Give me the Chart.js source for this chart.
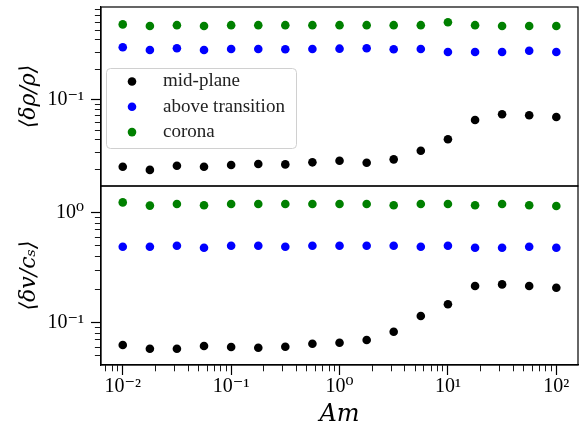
<!DOCTYPE html>
<html><head><meta charset="utf-8">
<script src="https://cdn.jsdelivr.net/npm/chart.js@4"></script>
<style>html,body{margin:0;padding:0;background:#fff}#wrap{width:579px;height:423px;position:relative}canvas{display:block}</style>
</head><body><div id="wrap"><canvas id="c" width="579" height="423" style="width:579px;height:423px"></canvas></div>
<script>
// ---- data ----
const amValues = [0.01, 0.0178, 0.0316, 0.0562, 0.1, 0.178, 0.316, 0.562, 1, 1.78, 3.16, 5.62, 10, 17.8, 31.6, 56.2, 100];
const seriesLabels = ['mid-plane', 'above transition', 'corona'];
const seriesColors = ['#000000', '#0000ff', '#008000'];
const rhoMidPlane = [0.0215, 0.0200, 0.0220, 0.0215, 0.0224, 0.0229, 0.0227, 0.0238, 0.0247, 0.0236, 0.0255, 0.0311, 0.0405, 0.0631, 0.0719, 0.0703, 0.0676];
const rhoAboveTransition = [0.337, 0.316, 0.329, 0.316, 0.324, 0.324, 0.322, 0.324, 0.326, 0.329, 0.322, 0.324, 0.302, 0.302, 0.302, 0.311, 0.302];
const rhoCorona = [0.57, 0.55, 0.56, 0.55, 0.56, 0.56, 0.56, 0.56, 0.56, 0.56, 0.56, 0.56, 0.60, 0.56, 0.55, 0.55, 0.55];
const velMidPlane = [0.0627, 0.0580, 0.0580, 0.0614, 0.0601, 0.0593, 0.0605, 0.0644, 0.0658, 0.0696, 0.0828, 0.115, 0.147, 0.216, 0.223, 0.216, 0.208];
const velAboveTransition = [0.49, 0.49, 0.50, 0.48, 0.50, 0.50, 0.49, 0.50, 0.50, 0.50, 0.50, 0.49, 0.50, 0.48, 0.48, 0.49, 0.48];
const velCorona = [1.24, 1.16, 1.20, 1.17, 1.20, 1.20, 1.20, 1.20, 1.20, 1.20, 1.17, 1.20, 1.20, 1.17, 1.20, 1.17, 1.15];
const xTickValues = [0.01, 0.1, 1, 10, 100];
const xTickLabels = ['10⁻²', '10⁻¹', '10⁰', '10¹', '10²'];
const rhoTickValues = [0.1];
const rhoTickLabels = ['10⁻¹'];
const velTickValues = [0.1, 1];
const velTickLabels = ['10⁻¹', '10⁰'];
const xTitle = 'Am';
const rhoTitle = '⟨δρ/ρ⟩';
const velTitle = '⟨δv/cₛ⟩';
const xLimits = [0.0063, 158.5];
const rhoLimits = [0.0138, 0.851];
const velLimits = [0.0413, 1.748];

// ---- helpers ----
function near(a, b) { return Math.abs(Math.log10(a) - Math.log10(b)) < 1e-6; }
function isMajorVal(v) { const l = Math.log10(v); return Math.abs(l - Math.round(l)) < 1e-6; }
function logTickList(min, max) {
  const t = [];
  for (let e = -4; e <= 3; e++) for (let m = 1; m <= 9; m++) {
    const v = +(m * Math.pow(10, e)).toPrecision(8);
    if (v >= min && v <= max) t.push({ value: v, major: m === 1 });
  }
  return t;
}
function labelFrom(values, labels) {
  return (v) => { const i = values.findIndex(x => near(x, v)); return i >= 0 ? labels[i] : ''; };
}
function zeroPad(s) { s.paddingLeft = 0; s.paddingRight = 0; s.paddingTop = 0; s.paddingBottom = 0; }
const TL = 10, MINOR = 5.5, AXW = 1.2;
const tickFont = { family: '"Liberation Serif", "DejaVu Serif", serif', size: 20, lineHeight: 1 };
const titleFont = { family: '"DejaVu Serif", serif', style: 'italic', size: 22, lineHeight: 1 };

function yScale(limits, tv, tl, title) {
  return {
    type: 'logarithmic', position: 'left', stack: 'panels', stackWeight: 1,
    min: limits[0], max: limits[1],
    afterBuildTicks: s => { s.ticks = logTickList(s.min, s.max); },
    afterFit: s => { s.width = 101; zeroPad(s); },
    border: { display: true, color: '#000', width: AXW },
    grid: {
      drawOnChartArea: false, drawTicks: true, tickLength: TL, color: '#000', tickColor: '#000',
      tickWidth: c => (c.tick && isMajorVal(c.tick.value)) ? 1.2 : 0.9,
      tickBorderDash: c => (c.tick && isMajorVal(c.tick.value)) ? [] : [0, TL - AXW / 2 - MINOR, MINOR, 200]
    },
    ticks: { autoSkip: false, padding: 7, color: '#000', font: tickFont, callback: labelFrom(tv, tl) },
    title: { display: true, text: title, color: '#000', font: titleFont, padding: { top: 18, bottom: 0 } }
  };
}

function mk(label, data, color, axis) {
  return {
    label, data: data.map((v, i) => ({ x: amValues[i], y: v })), yAxisID: axis, xAxisID: 'x',
    showLine: false, pointRadius: 4.3, pointHoverRadius: 4.3, pointBorderWidth: 0,
    backgroundColor: color, borderColor: color, pointBackgroundColor: color
  };
}

const framePlugin = {
  id: 'frame',
  afterDatasetsDraw(chart) {
    const ctx = chart.ctx, a = chart.chartArea;
    ctx.save();
    ctx.strokeStyle = '#000'; ctx.lineWidth = AXW;
    ['yRho', 'yVel'].forEach(id => {
      const s = chart.scales[id];
      ctx.strokeRect(a.left, s.top, a.right - a.left, s.bottom - s.top);
    });
    ctx.restore();
  }
};

const legendPlugin = {
  id: 'boxLegend',
  afterDraw(chart) {
    const ctx = chart.ctx, a = chart.chartArea;
    const x0 = a.left + 5, y0 = a.top + 61, w = 190, h = 80;
    ctx.save();
    ctx.beginPath();
    ctx.roundRect(x0 + 0.5, y0 + 0.5, w, h, 4);
    ctx.fillStyle = 'rgba(255,255,255,0.8)'; ctx.fill();
    ctx.strokeStyle = '#d0d0d0'; ctx.lineWidth = 1; ctx.stroke();
    const items = chart.data.datasets.filter(d => d.yAxisID === 'yRho');
    items.forEach((d, i) => {
      const cy = y0 + 13.5 + i * 25.3;
      ctx.beginPath(); ctx.arc(x0 + 26, cy, 4.3, 0, 2 * Math.PI);
      ctx.fillStyle = d.backgroundColor; ctx.fill();
      ctx.fillStyle = '#222'; ctx.font = '19px "Liberation Serif", serif';
      ctx.textBaseline = 'middle'; ctx.textAlign = 'left';
      ctx.fillText(d.label, x0 + 57, cy);
    });
    ctx.restore();
  }
};

new Chart(document.getElementById('c'), {
  type: 'scatter',
  data: {
    datasets: [
      mk(seriesLabels[0], rhoMidPlane, seriesColors[0], 'yRho'),
      mk(seriesLabels[1], rhoAboveTransition, seriesColors[1], 'yRho'),
      mk(seriesLabels[2], rhoCorona, seriesColors[2], 'yRho'),
      mk(seriesLabels[0], velMidPlane, seriesColors[0], 'yVel'),
      mk(seriesLabels[1], velAboveTransition, seriesColors[1], 'yVel'),
      mk(seriesLabels[2], velCorona, seriesColors[2], 'yVel')
    ]
  },
  options: {
    responsive: false, animation: false, devicePixelRatio: 1,
    layout: { autoPadding: false, padding: { top: 7, right: 1, left: 0, bottom: 0 } },
    plugins: { legend: { display: false }, tooltip: { enabled: false } },
    events: [],
    scales: {
      x: {
        type: 'logarithmic', position: 'bottom', min: xLimits[0], max: xLimits[1],
        afterBuildTicks: s => { s.ticks = logTickList(s.min, s.max); },
        afterFit: s => { s.height = 58; zeroPad(s); },
        border: { display: true, color: '#000', width: AXW },
        grid: {
          drawOnChartArea: false, drawTicks: true, tickLength: TL, color: '#000', tickColor: '#000',
          tickWidth: c => (c.tick && isMajorVal(c.tick.value)) ? 1.2 : 0.9,
          tickBorderDash: c => (c.tick && isMajorVal(c.tick.value)) ? [] : [MINOR + AXW / 2, 200]
        },
        ticks: { autoSkip: false, maxRotation: 0, padding: 2, color: '#000', font: tickFont, callback: labelFrom(xTickValues, xTickLabels) },
        title: { display: true, text: xTitle, color: '#000', font: { family: '"DejaVu Serif", serif', style: 'italic', size: 24, lineHeight: 1 }, padding: { top: 0, bottom: -4 } }
      },
      yVel: yScale(velLimits, velTickValues, velTickLabels, velTitle),
      yRho: yScale(rhoLimits, rhoTickValues, rhoTickLabels, rhoTitle)
    }
  },
  plugins: [framePlugin, legendPlugin]
});
</script>
</body></html>
